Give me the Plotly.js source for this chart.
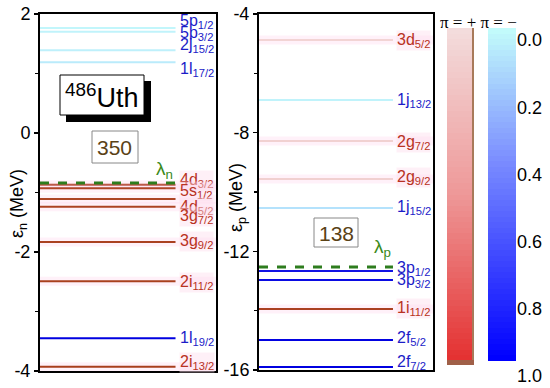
<!DOCTYPE html>
<html><head><meta charset="utf-8">
<script src="https://cdn.plot.ly/plotly-3.0.1.min.js"></script>
<style>html,body{margin:0;padding:0;background:#fff}</style>
</head><body><div id="chart" style="width:550px;height:388px"></div>
<script>
// ---- neutron levels (left panel) ----
const nOrb    = ['5p','5p','2j','1l','4d','5s','4d','3g','3g','2i','1l','2i'];
const nJ      = ['1/2','3/2','15/2','17/2','3/2','1/2','5/2','7/2','9/2','11/2','19/2','13/2'];
const nEnergy = [1.765, 1.70, 1.39, 1.19, -0.87, -0.93, -1.11, -1.24, -1.83, -2.49, -3.45, -3.93];
const nOcc    = [0.02, 0.03, 0.04, 0.06, 0.93, 0.95, 0.96, 0.97, 0.98, 0.99, 1.0, 1.0];
const nParity = ['-','-','-','-','+','+','+','+','+','+','-','+'];
const nLabelE = [1.87, 1.67, 1.47, 1.06, -0.79, -0.99, -1.25, -1.40, -1.83, -2.51, -3.46, -3.86];
const lambdaN = -0.84;
const nNumber = '350';

// ---- proton levels (right panel) ----
const pOrb    = ['3d','1j','2g','2g','1j','3p','3p','1i','2f','2f'];
const pJ      = ['5/2','13/2','7/2','9/2','15/2','1/2','3/2','11/2','5/2','7/2'];
const pEnergy = [-4.88, -6.9, -8.28, -9.56, -10.54, -12.66, -12.97, -13.94, -14.99, -15.9];
const pOcc    = [0.04, 0.03, 0.06, 0.07, 0.09, 0.92, 0.95, 0.98, 0.99, 1.0];
const pParity = ['+','-','+','+','-','-','-','+','-','-'];
const pLabelE = [-4.9, -6.92, -8.33, -9.51, -10.52, -12.58, -12.99, -13.93, -14.94, -15.75];
const lambdaP = -12.53;
const pNumber = '138';

// colorbar ticks
const cbTicks = [0, 0.2, 0.4, 0.6, 0.8, 1.0];
const cbTickText = ['0.0','0.2','0.4','0.6','0.8','1.0'];

const W = 550, H = 388;
const px = v => v / W, py = v => 1 - v / H;

const redScale  = [[0,'#f3dada'],[0.5,'#e49090'],[1,'#a83e1c']];
const blueScale = [[0,'#c6fbfb'],[0.5,'#6372ff'],[1,'#0000e0']];
function hex2rgb(h){return [1,3,5].map(i=>parseInt(h.substr(i,2),16));}
function interp(scale, v){
  for(let i=1;i<scale.length;i++){
    if(v<=scale[i][0]){
      const t=(v-scale[i-1][0])/(scale[i][0]-scale[i-1][0]);
      const a=hex2rgb(scale[i-1][1]), b=hex2rgb(scale[i][1]);
      return 'rgb('+a.map((c,k)=>Math.round(c+(b[k]-c)*t)).join(',')+')';
    }
  }
  return scale[scale.length-1][1];
}
const labelRed = '#b83222', labelBlue = '#1c1cc8';
const lineLen = 0.77;
const FONT = 'Liberation Sans, Arial';

const traces = [];
const annotations = [];

function addPanel(orb, J, E, occ, par, labE, lam, xa, ya, labX){
  for(let i=0;i<E.length;i++){
    const col = interp(par[i]==='+'?redScale:blueScale, occ[i]);
    if(par[i]==='+'){
      traces.push({type:'scatter',mode:'lines',x:[0,1],y:[E[i],E[i]],xaxis:xa,yaxis:ya,
        line:{color:'rgba(255,170,215,0.16)',width:9},hoverinfo:'skip',showlegend:false});
    }
    traces.push({type:'scatter',mode:'lines',x:[0,lineLen],y:[E[i],E[i]],xaxis:xa,yaxis:ya,
      line:{color:col,width:2},hoverinfo:'skip',showlegend:false});
    annotations.push({xref:xa,yref:ya,x:labX,y:labE[i],xanchor:'left',yanchor:'middle',showarrow:false,
      text:orb[i]+'<sub>'+J[i]+'</sub>',
      bgcolor: par[i]==='+' ? 'rgba(253,222,238,0.45)' : 'rgba(0,0,0,0)', borderpad:0,
      font:{family:FONT,size:16,color:par[i]==='+'?labelRed:labelBlue}});
  }
  traces.push({type:'scatter',mode:'lines',x:[0,lineLen],y:[lam,lam],xaxis:xa,yaxis:ya,
    line:{color:'#2e7d1e',width:3,dash:'dash'},hoverinfo:'skip',showlegend:false});
}
addPanel(nOrb,nJ,nEnergy,nOcc,nParity,nLabelE,lambdaN,'x','y',0.79);
addPanel(pOrb,pJ,pEnergy,pOcc,pParity,pLabelE,lambdaP,'x2','y2',0.79);

// colorbars as heatmaps
const nSteps = 60;
const cbTop = -12/335, cbBot = (360-40)/335;
const yEdges = [], zR = [], zB = [];
for(let i=0;i<=nSteps;i++) yEdges.push(cbTop + (cbBot-cbTop)*i/nSteps);
for(let i=0;i<nSteps;i++){ const v=i/(nSteps-1); zR.push([v]); zB.push([v]); }
traces.push({type:'heatmap',x:[0],y:yEdges,z:zR,colorscale:[[0,'#f3dcdc'],[0.5,'#ee9898'],[1,'#e43232']],zmin:0,zmax:1,
  xaxis:'x3',yaxis:'y3',showscale:false,hoverinfo:'skip'});
traces.push({type:'heatmap',x:[0],y:yEdges,z:zB,colorscale:[[0,'#c2fbfb'],[0.4,'#7a8cff'],[1,'#0000ff']],zmin:0,zmax:1,
  xaxis:'x4',yaxis:'y3',showscale:false,hoverinfo:'skip'});

const tickFont = {family:FONT,size:18,color:'#000'};
const layout = {
  width:W,height:H,margin:{l:0,r:0,t:0,b:0},paper_bgcolor:'#fff',plot_bgcolor:'rgba(0,0,0,0)',
  showlegend:false,
  xaxis:{domain:[px(40),px(216)],range:[0,1],showticklabels:false,ticks:'',showgrid:false,zeroline:false,
    showline:true,mirror:true,linecolor:'#000',linewidth:2,anchor:'y'},
  yaxis:{domain:[py(371),py(14)],range:[-4,2],tickvals:[2,0,-2,-4],ticktext:['2','0','-2','-4'],
    ticks:'outside',ticklen:4,tickwidth:1.5,tickcolor:'#000',showgrid:false,zeroline:false,
    minor:{tickvals:[1,-1,-3],ticks:'outside',ticklen:3,tickcolor:'#000'},
    showline:true,mirror:true,linecolor:'#000',linewidth:2,tickfont:tickFont,anchor:'x'},
  xaxis2:{domain:[px(259),px(433)],range:[0,1],showticklabels:false,ticks:'',showgrid:false,zeroline:false,
    showline:true,mirror:true,linecolor:'#000',linewidth:2,anchor:'y2'},
  yaxis2:{domain:[py(370),py(14)],range:[-16,-4],tickvals:[-4,-8,-12,-16],ticktext:['-4','-8','-12','-16'],
    ticks:'outside',ticklen:4,tickwidth:1.5,tickcolor:'#000',showgrid:false,zeroline:false,
    minor:{tickvals:[-6,-10,-14],ticks:'outside',ticklen:3,tickcolor:'#000'},
    showline:true,mirror:true,linecolor:'#000',linewidth:2,tickfont:tickFont,anchor:'x2'},
  xaxis3:{domain:[px(447),px(474)],range:[-0.5,0.5],visible:false,anchor:'y3'},
  xaxis4:{domain:[px(488),px(516)],range:[-0.5,0.5],visible:false,anchor:'y3'},
  yaxis3:{domain:[py(376),py(28)],range:[1.0, cbTop],anchor:'x4',side:'right',showgrid:false,zeroline:false,
    showline:false,ticks:'',tickvals:cbTicks,ticktext:cbTickText,tickfont:tickFont},
  shapes:[
    {type:'line',xref:'paper',yref:'paper',x0:px(473),x1:px(473),y0:py(28),y1:py(365),line:{color:'#a87a5a',width:2}},
    {type:'line',xref:'paper',yref:'paper',x0:px(447),x1:px(474),y0:py(362.5),y1:py(362.5),line:{color:'#a06048',width:5}},
    {type:'rect',xref:'paper',yref:'paper',x0:px(66),x1:px(151),y0:py(122),y1:py(81),fillcolor:'#000',line:{width:0}},
    {type:'rect',xref:'paper',yref:'paper',x0:px(60),x1:px(144),y0:py(115),y1:py(75),fillcolor:'#fff',line:{color:'#000',width:1}},
    {type:'rect',xref:'paper',yref:'paper',x0:px(92),x1:px(138),y0:py(163),y1:py(131),fillcolor:'#fff',line:{color:'#888',width:1}},
    {type:'rect',xref:'paper',yref:'paper',x0:px(314),x1:px(358),y0:py(247),y1:py(218),fillcolor:'#fff',line:{color:'#888',width:1}}
  ],
  annotations: annotations.concat([
    {xref:'paper',yref:'paper',x:px(18),y:py(204),xanchor:'center',yanchor:'middle',showarrow:false,textangle:-90,
      text:'ε<sub>n</sub> (MeV)',font:{family:FONT,size:18,color:'#000'}},
    {xref:'paper',yref:'paper',x:px(237),y:py(198),xanchor:'center',yanchor:'middle',showarrow:false,textangle:-90,
      text:'ε<sub>p</sub> (MeV)',font:{family:FONT,size:18,color:'#000'}},
    {xref:'paper',yref:'paper',x:px(102),y:py(96),xanchor:'center',yanchor:'middle',showarrow:false,
      text:'<sup>486</sup>Uth',font:{family:FONT,size:27,color:'#000'}},
    {xref:'paper',yref:'paper',x:px(115),y:py(147),xanchor:'center',yanchor:'middle',showarrow:false,
      text:nNumber,font:{family:FONT,size:21,color:'#5a4216'}},
    {xref:'paper',yref:'paper',x:px(336),y:py(233),xanchor:'center',yanchor:'middle',showarrow:false,
      text:pNumber,font:{family:FONT,size:21,color:'#5a4216'}},
    {xref:'paper',yref:'paper',x:px(154),y:py(170),xanchor:'left',yanchor:'middle',showarrow:false,
      text:'λ<sub>n</sub>',font:{family:FONT,size:19,color:'#3a8a1a'}},
    {xref:'paper',yref:'paper',x:px(372),y:py(248),xanchor:'left',yanchor:'middle',showarrow:false,
      text:'λ<sub>p</sub>',font:{family:FONT,size:19,color:'#3a8a1a'}},
    {xref:'paper',yref:'paper',x:px(479),y:py(22),xanchor:'center',yanchor:'middle',showarrow:false,
      text:'π = + π = −',font:{family:'Liberation Serif, Times New Roman',size:17,color:'#000'}}
  ])
};
Plotly.newPlot('chart', traces, layout, {staticPlot:true, displayModeBar:false});
</script></body></html>
